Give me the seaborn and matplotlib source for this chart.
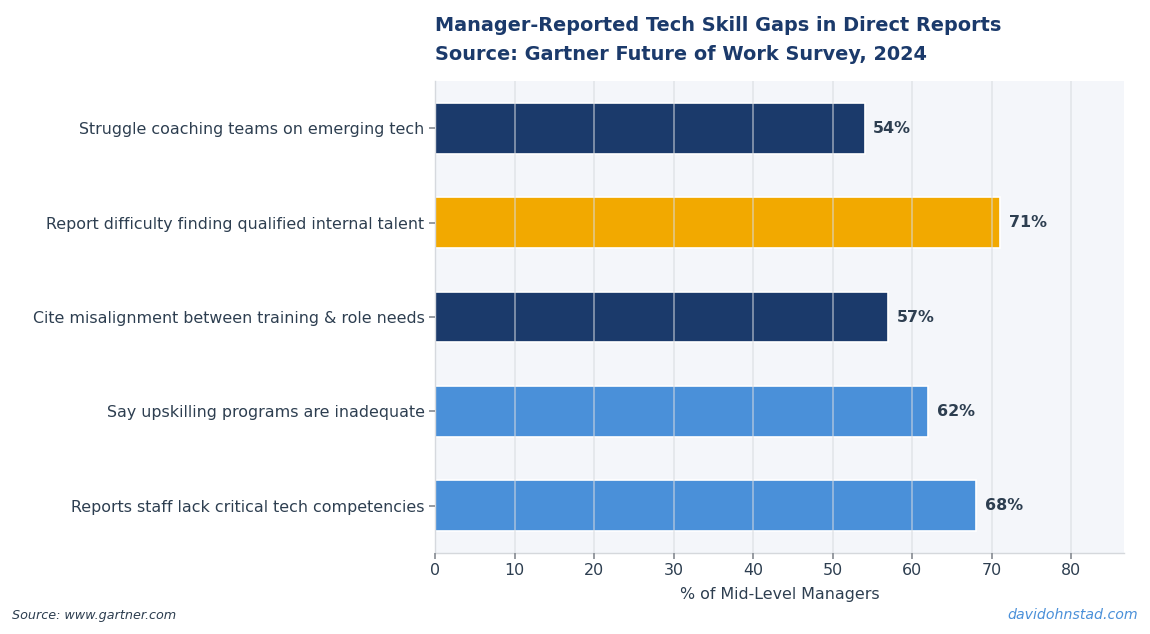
import matplotlib
matplotlib.use("Agg")
import matplotlib.pyplot as plt
import seaborn as sns
import pandas as pd

categories = [
    "Struggle coaching teams on emerging tech",
    "Report difficulty finding qualified internal talent",
    "Cite misalignment between training & role needs",
    "Say upskilling programs are inadequate",
    "Reports staff lack critical tech competencies",
]
values = [54, 71, 57, 62, 68]
bar_colors = ["#1b3a6b", "#f2a900", "#1b3a6b", "#4a90d9", "#4a90d9"]

title = "Manager-Reported Tech Skill Gaps in Direct Reports\nSource: Gartner Future of Work Survey, 2024"
xlabel = "% of Mid-Level Managers"
source_text = "Source: www.gartner.com"
credit_text = "davidohnstad.com"

sns.set_theme(style="white")
plt.rcParams["font.family"] = ["DejaVu Sans"]

df = pd.DataFrame({"category": categories, "value": values})

fig = plt.figure(figsize=(11.5, 6.34), dpi=100)
ax = fig.add_axes([435 / 1150, 1 - 553 / 634, (1124 - 435) / 1150, (553 - 81) / 634])
ax.set_facecolor("#f4f6fa")

sns.barplot(data=df, x="value", y="category", hue="category", palette=bar_colors,
            legend=False, orient="h", width=0.54, edgecolor="white", linewidth=1.2, ax=ax,
            order=categories, hue_order=categories, saturation=1)

ax.set_xlim(0, max(values) * 1.22)
ax.set_xticks(range(0, 90, 10))
ax.grid(axis="x", color="#d8dbe0", linewidth=1.2, alpha=0.6)
ax.set_axisbelow(False)

for s in ["top", "right"]:
    ax.spines[s].set_visible(False)
for s in ["left", "bottom"]:
    ax.spines[s].set_color("#d5d8dc")
    ax.spines[s].set_linewidth(1)

ax.tick_params(axis="both", which="both", length=4, color="#8a8f96", labelsize=11.4,
               labelcolor="#2d3e50", left=True, bottom=True)
ax.set_ylabel("")
ax.set_xlabel(xlabel, fontsize=11.4, color="#2d3e50", labelpad=6)

for i, v in enumerate(values):
    ax.text(v + 1.1, i, f"{v}%", va="center", ha="left", fontsize=11.4,
            fontweight="bold", color="#2d3e50")

ax.set_title(title, loc="left", fontsize=13.9, fontweight="bold", color="#1b3a6b",
             pad=15, linespacing=1.68)

fig.text(12 / 1150, 1 - 615 / 634, source_text, ha="left", va="center", fontsize=9.2,
         style="italic", color="#2d3e50")
fig.text(1138 / 1150, 1 - 615 / 634, credit_text, ha="right", va="center", fontsize=10.2,
         style="italic", color="#4a90d9")

fig.savefig("out.png", dpi=100)
